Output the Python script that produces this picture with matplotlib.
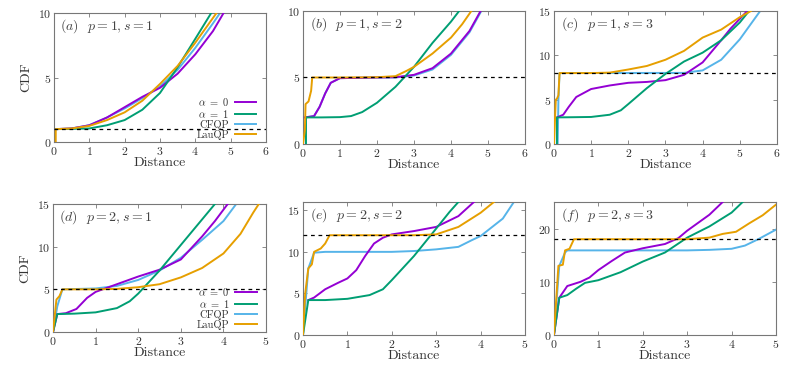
import matplotlib
matplotlib.use('Agg')
import matplotlib.pyplot as plt

plt.rcParams['font.family'] = 'serif'
plt.rcParams['font.serif'] = ['cmr10', 'DejaVu Serif']
plt.rcParams['mathtext.fontset'] = 'cm'
plt.rcParams['axes.formatter.use_mathtext'] = True

# 색상 (gnuplot 기본 팔레트)
c_a0 = '#9400d3'
c_a1 = '#009e73'
c_cf = '#56b4e9'
c_lau = '#e69f00'

# ---- (a) p=1, s=1 ----
a_a0_x = [0.05, 0.5, 1.0, 1.5, 2.0, 2.5, 3.0, 3.5, 4.0, 4.5, 4.8]
a_a0_y = [1.0, 1.05, 1.3, 1.9, 2.7, 3.5, 4.2, 5.3, 6.8, 8.6, 10.0]
a_a1_x = [0.05, 0.5, 1.0, 1.5, 2.0, 2.5, 3.0, 3.5, 4.0, 4.45]
a_a1_y = [1.0, 1.02, 1.05, 1.3, 1.7, 2.5, 3.8, 5.8, 8.0, 10.0]
a_cf_x = [0.05, 0.5, 1.0, 1.5, 2.0, 2.5, 3.0, 3.5, 4.0, 4.5, 4.7]
a_cf_y = [1.0, 1.05, 1.3, 1.9, 2.6, 3.4, 4.3, 5.6, 7.3, 9.2, 10.0]
a_lau_x = [0.05, 0.05, 0.5, 1.0, 1.5, 2.0, 2.5, 3.0, 3.5, 4.0, 4.6]
a_lau_y = [0.0, 1.0, 1.05, 1.25, 1.7, 2.3, 3.2, 4.5, 5.9, 7.7, 10.0]

# ---- (b) p=1, s=2 ----
b_a0_x = [0.05, 0.3, 0.45, 0.6, 0.75, 1.0, 2.0, 2.5, 3.0, 3.5, 4.0, 4.5, 4.8]
b_a0_y = [2.0, 2.1, 2.8, 3.8, 4.6, 4.95, 5.0, 5.02, 5.2, 5.7, 6.8, 8.5, 10.0]
b_a1_x = [0.08, 0.08, 0.5, 1.0, 1.3, 1.6, 2.0, 2.5, 3.0, 3.5, 4.0, 4.22]
b_a1_y = [0.0, 2.0, 2.0, 2.02, 2.1, 2.4, 3.1, 4.3, 5.8, 7.6, 9.2, 10.0]
b_cf_x = [0.08, 0.08, 0.3, 0.45, 0.6, 0.75, 1.0, 2.0, 2.5, 3.0, 3.5, 4.0, 4.5, 4.82]
b_cf_y = [0.0, 2.0, 2.1, 2.8, 3.8, 4.6, 4.95, 5.0, 5.0, 5.15, 5.6, 6.7, 8.4, 10.0]
b_lau_x = [0.0, 0.05, 0.07, 0.15, 0.22, 0.25, 1.0, 2.0, 2.5, 2.8, 3.0, 3.5, 4.0, 4.3, 4.55]
b_lau_y = [0.0, 1.0, 3.0, 3.2, 4.0, 5.0, 5.0, 5.02, 5.1, 5.5, 5.8, 6.8, 8.0, 9.0, 10.0]

# ---- (c) p=1, s=3 ----
c_a0_x = [0.08, 0.25, 0.4, 0.6, 1.0, 1.5, 2.0, 2.5, 3.0, 3.5, 4.0, 4.5, 4.75, 5.2]
c_a0_y = [3.0, 3.3, 4.2, 5.3, 6.2, 6.6, 6.9, 7.0, 7.2, 7.8, 9.2, 11.7, 13.0, 15.0]
c_a1_x = [0.08, 0.08, 0.5, 1.0, 1.5, 1.8, 2.0, 2.5, 3.0, 3.5, 4.0, 4.5, 5.0, 5.25]
c_a1_y = [0.0, 3.0, 3.02, 3.05, 3.3, 3.8, 4.5, 6.3, 7.9, 9.3, 10.3, 11.7, 13.7, 15.0]
c_cf_x = [0.1, 0.12, 0.15, 3.5, 4.0, 4.5, 5.0, 5.55]
c_cf_y = [0.0, 5.0, 8.0, 8.02, 8.3, 9.5, 11.8, 15.0]
c_lau_x = [0.0, 0.05, 0.08, 0.12, 0.15, 1.0, 1.5, 2.0, 2.5, 3.0, 3.5, 4.0, 4.5, 5.0, 5.3]
c_lau_y = [0.0, 5.0, 5.1, 5.5, 8.0, 8.0, 8.05, 8.4, 8.8, 9.5, 10.5, 12.0, 12.9, 14.3, 15.0]

# ---- (d) p=2, s=1 ----
d_a0_x = [0.0, 0.1, 0.3, 0.55, 0.8, 1.0, 1.5, 2.0, 2.5, 3.0, 3.5, 3.8, 4.1]
d_a0_y = [0.0, 2.1, 2.2, 2.7, 4.0, 4.7, 5.6, 6.5, 7.3, 8.5, 11.2, 13.0, 15.0]
d_a1_x = [0.0, 0.1, 0.5, 1.0, 1.5, 1.8, 2.0, 2.5, 3.0, 3.5, 3.8]
d_a1_y = [0.0, 2.1, 2.15, 2.3, 2.8, 3.6, 4.5, 7.2, 10.2, 13.2, 15.0]
d_cf_x = [0.0, 0.1, 0.22, 1.0, 1.5, 2.0, 2.5, 3.0, 3.5, 4.0, 4.3]
d_cf_y = [0.0, 3.0, 5.0, 5.1, 5.4, 6.1, 7.2, 8.7, 10.8, 13.0, 15.0]
d_lau_x = [0.0, 0.08, 0.15, 0.22, 1.0, 1.5, 2.0, 2.5, 3.0, 3.5, 4.0, 4.4, 4.7, 4.83]
d_lau_y = [0.0, 3.8, 4.2, 5.0, 5.0, 5.05, 5.25, 5.6, 6.4, 7.5, 9.2, 11.5, 14.0, 15.0]

# ---- (e) p=2, s=2 ----
e_a0_x = [0.12, 0.25, 0.5, 0.8, 1.0, 1.2, 1.4, 1.6, 1.8, 2.0, 2.5, 3.0, 3.5, 3.85]
e_a0_y = [4.2, 4.5, 5.5, 6.3, 6.8, 7.8, 9.5, 11.0, 11.7, 12.1, 12.5, 13.0, 14.3, 16.0]
e_a1_x = [0.0, 0.12, 0.5, 1.0, 1.5, 1.8, 2.0, 2.5, 3.0, 3.3, 3.5]
e_a1_y = [0.0, 4.2, 4.2, 4.35, 4.8, 5.5, 6.6, 9.5, 12.8, 14.8, 16.0]
e_cf_x = [0.0, 0.12, 0.25, 0.5, 1.0, 2.0, 2.5, 3.0, 3.5, 3.8, 4.0, 4.5, 4.75]
e_cf_y = [0.0, 8.0, 9.9, 10.0, 10.0, 10.0, 10.1, 10.3, 10.6, 11.4, 11.9, 14.0, 16.0]
e_lau_x = [0.0, 0.05, 0.12, 0.2, 0.25, 0.4, 0.5, 0.6, 1.0, 2.0, 2.5, 3.0, 3.5, 4.0, 4.3]
e_lau_y = [0.0, 5.0, 8.0, 8.5, 10.0, 10.4, 11.0, 12.0, 12.0, 12.0, 12.0, 12.1, 13.0, 14.7, 16.0]

# ---- (f) p=2, s=3 ----
f_a0_x = [0.0, 0.12, 0.3, 0.6, 0.8, 1.0, 1.3, 1.6, 2.0, 2.5, 2.8, 3.0, 3.5, 3.8]
f_a0_y = [0.0, 7.0, 9.2, 10.0, 10.8, 12.2, 13.9, 15.5, 16.3, 17.1, 18.2, 19.6, 22.6, 25.0]
f_a1_x = [0.0, 0.12, 0.3, 0.5, 0.7, 1.0, 1.5, 2.0, 2.5, 3.0, 3.5, 4.0, 4.25]
f_a1_y = [0.0, 7.0, 7.5, 8.7, 9.8, 10.3, 11.8, 13.8, 15.5, 18.3, 20.4, 23.0, 25.0]
f_cf_x = [0.0, 0.12, 0.25, 0.3, 1.0, 2.0, 3.0, 3.5, 4.0, 4.3, 4.6, 5.0]
f_cf_y = [0.0, 13.0, 15.5, 15.9, 15.9, 15.9, 15.9, 16.0, 16.2, 16.8, 18.0, 19.8]
f_lau_x = [0.0, 0.1, 0.2, 0.25, 0.35, 0.45, 1.0, 2.0, 3.0, 3.5, 3.8, 4.1, 4.4, 4.7, 5.0]
f_lau_y = [0.0, 13.0, 13.2, 15.9, 16.2, 18.0, 18.0, 18.0, 18.0, 18.3, 19.0, 19.4, 21.0, 22.5, 24.5]

labels = [r'$\alpha\ =\ 0$', r'$\alpha\ =\ 1$', 'CFQP', 'LauQP']
titles = [r'$(a)$  $p = 1, s = 1$', r'$(b)$  $p = 1, s = 2$', r'$(c)$  $p = 1, s = 3$',
          r'$(d)$  $p = 2, s = 1$', r'$(e)$  $p = 2, s = 2$', r'$(f)$  $p = 2, s = 3$']
ref_lines = [1, 5, 8, 5, 12, 18]
xmaxs = [6, 6, 6, 5, 5, 5]
ymaxs = [10, 10, 15, 15, 16, 25]
yticks = [[0, 5, 10], [0, 5, 10], [0, 5, 10, 15], [0, 5, 10, 15], [0, 5, 10, 15], [0, 10, 20]]

panels = [
    [(a_a0_x, a_a0_y), (a_a1_x, a_a1_y), (a_cf_x, a_cf_y), (a_lau_x, a_lau_y)],
    [(b_a0_x, b_a0_y), (b_a1_x, b_a1_y), (b_cf_x, b_cf_y), (b_lau_x, b_lau_y)],
    [(c_a0_x, c_a0_y), (c_a1_x, c_a1_y), (c_cf_x, c_cf_y), (c_lau_x, c_lau_y)],
    [(d_a0_x, d_a0_y), (d_a1_x, d_a1_y), (d_cf_x, d_cf_y), (d_lau_x, d_lau_y)],
    [(e_a0_x, e_a0_y), (e_a1_x, e_a1_y), (e_cf_x, e_cf_y), (e_lau_x, e_lau_y)],
    [(f_a0_x, f_a0_y), (f_a1_x, f_a1_y), (f_cf_x, f_cf_y), (f_lau_x, f_lau_y)],
]

# 축 위치 (그림 비율)
positions = [
    [0.0684, 0.6213, 0.2687, 0.344],
    [0.384, 0.616, 0.2814, 0.3547],
    [0.7021, 0.616, 0.2826, 0.3547],
    [0.0672, 0.1147, 0.27, 0.3413],
    [0.384, 0.1067, 0.2814, 0.3547],
    [0.7021, 0.1067, 0.2814, 0.3547],
]

colors = [c_a0, c_a1, c_cf, c_lau]
zorders = [3, 3, 2.5, 4]

fig = plt.figure(figsize=(7.89, 3.75), dpi=100)

for i in range(6):
    ax = fig.add_axes(positions[i])
    for j in range(4):
        x, y = panels[i][j]
        ax.plot(x, y, color=colors[j], lw=1.4, label=labels[j], zorder=zorders[j])
    ax.axhline(ref_lines[i], color='black', lw=0.9, ls=(0, (3, 3)), zorder=4.5)
    ax.set_xlim(0, xmaxs[i])
    ax.set_ylim(0, ymaxs[i])
    ax.set_xticks(range(0, xmaxs[i] + 1))
    ax.set_yticks(yticks[i])
    ax.tick_params(direction='in', top=True, right=True, labelsize=8.5,
                   length=3, width=0.6, color='#777777', labelcolor='#333333', pad=2)
    for sp in ax.spines.values():
        sp.set_color('#777777')
        sp.set_linewidth(0.8)
    ax.set_xlabel('Distance', fontsize=10, labelpad=0, color='#333333')
    ax.text(0.03, 0.9, titles[i], transform=ax.transAxes, fontsize=10,
            va='center', ha='left', color='#444444')
    if i in (0, 3):
        ax.set_ylabel('CDF', fontsize=10, color='#333333')
        leg = ax.legend(loc='lower right', frameon=False, markerfirst=False, fontsize=7.5,
                        handlelength=2.1, handletextpad=0.5, labelspacing=0.0,
                        borderpad=0.2, borderaxespad=0.0, bbox_to_anchor=(0.965, 0.0))
        for t in leg.get_texts():
            t.set_color('#333333')

fig.savefig('out.png', dpi=100)
